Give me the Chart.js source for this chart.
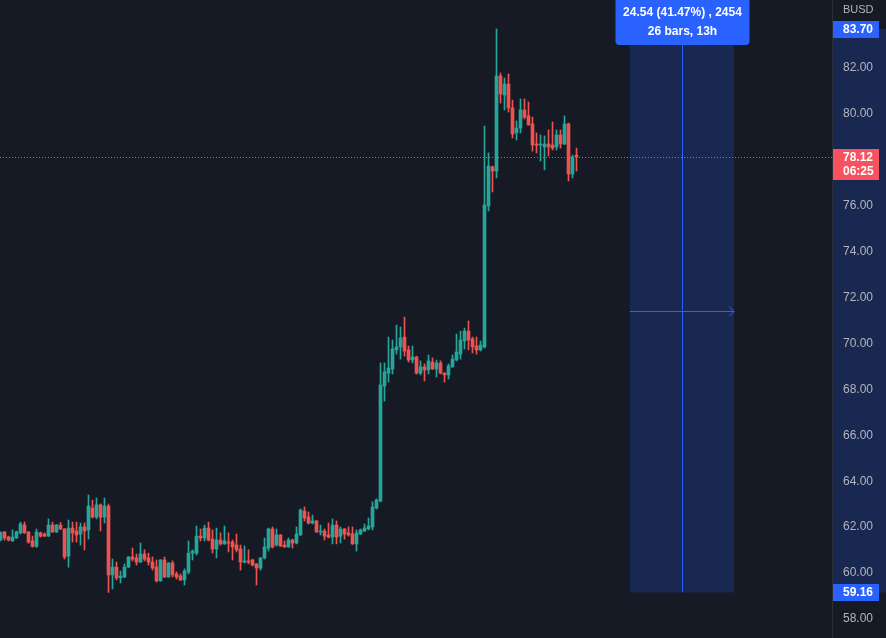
<!DOCTYPE html>
<html lang="en">
<head>
<meta charset="UTF-8">
<title>BUSD chart</title>
<style>
    html, body { margin: 0; padding: 0; background: #161a25; }
    canvas { display: block; }
</style>
</head>
<body>
<canvas id="chart" width="886" height="638"></canvas>
<script src="https://cdn.jsdelivr.net/npm/chart.js"></script>
<script>
// candle values (one entry per bar)
const opens = [
    61.44, 61.79, 61.57, 61.40, 61.53, 61.75, 62.09, 61.79, 61.40, 61.16,
    61.75, 61.70, 61.61, 62.09, 61.79, 62.09, 61.92, 60.74, 61.96, 61.83,
    61.70, 62.01, 61.88, 62.83, 62.44, 62.97, 62.44, 62.92, 59.92, 60.26,
    59.79, 59.83, 60.26, 60.70, 60.66, 60.48, 60.83, 60.66, 60.48, 60.26,
    59.66, 60.57, 59.83, 60.44, 59.96, 59.87, 59.70, 60.05, 60.87, 60.87,
    61.61, 61.53, 61.96, 61.48, 61.05, 61.44, 61.27, 61.35, 61.35, 61.22,
    61.05, 60.48, 60.53, 60.57, 60.40, 60.22, 60.66, 61.09, 61.92, 61.22,
    61.66, 61.22, 61.14, 61.44, 61.31, 61.66, 62.70, 62.44, 62.18, 62.27,
    61.79, 61.83, 61.66, 61.57, 62.09, 61.61, 61.92, 61.75, 61.70, 61.27,
    61.70, 61.83, 61.92, 62.01, 62.83, 63.14, 68.15, 68.71, 68.89, 69.72,
    69.85, 70.28, 69.72, 69.28, 69.41, 68.71, 68.98, 68.85, 69.19, 68.89,
    69.15, 68.71, 68.63, 68.98, 69.28, 69.54, 70.11, 70.54, 70.20, 69.89,
    69.72, 69.85, 75.99, 77.69, 77.51, 81.65, 80.82, 81.30, 80.26, 79.17,
    79.38, 80.17, 79.91, 79.56, 78.69, 78.64, 78.56, 78.69, 78.64, 78.56,
    79.08, 78.69, 79.56, 77.38, 78.20
];
const highs = [
    61.80, 61.81, 61.61, 61.88, 61.83, 62.22, 62.22, 61.81, 61.61, 61.92,
    61.79, 61.75, 62.36, 62.22, 62.12, 62.20, 61.94, 62.31, 62.22, 62.22,
    62.18, 62.18, 63.40, 63.18, 63.27, 63.01, 63.27, 63.01, 60.61, 60.48,
    60.09, 60.40, 60.72, 61.09, 60.83, 61.31, 61.01, 60.87, 60.70, 60.57,
    60.59, 60.70, 60.46, 60.53, 60.05, 59.96, 60.18, 61.40, 61.01, 62.05,
    61.92, 62.09, 62.22, 61.88, 61.96, 61.75, 62.05, 61.75, 61.44, 61.70,
    61.22, 61.18, 61.01, 60.61, 60.42, 60.68, 61.53, 61.96, 62.01, 61.92,
    61.68, 61.40, 61.53, 61.48, 62.01, 62.79, 62.88, 62.66, 62.53, 62.29,
    62.09, 61.92, 62.18, 62.36, 62.27, 62.01, 61.94, 62.01, 62.01, 61.88,
    61.92, 62.14, 62.40, 63.10, 63.23, 69.15, 69.15, 70.28, 70.15, 70.80,
    70.72, 71.15, 69.89, 69.89, 69.45, 69.24, 69.11, 69.50, 69.37, 69.28,
    69.24, 68.73, 69.11, 69.50, 70.41, 70.54, 70.67, 70.98, 70.28, 70.28,
    70.11, 79.47, 78.30, 77.73, 83.70, 81.78, 81.56, 81.74, 80.60, 79.69,
    80.65, 80.65, 80.52, 79.86, 79.17, 79.08, 79.04, 79.30, 79.65, 79.30,
    79.30, 79.91, 79.60, 78.21, 78.51
];
const lows = [
    61.40, 61.44, 61.40, 61.38, 61.51, 61.70, 61.73, 61.30, 61.13, 61.12,
    61.57, 61.59, 61.59, 61.77, 61.77, 61.90, 60.61, 60.26, 61.35, 61.35,
    61.22, 61.01, 61.48, 62.40, 62.36, 61.83, 62.18, 59.16, 59.31, 59.70,
    59.57, 59.80, 60.24, 60.53, 60.35, 60.46, 60.53, 60.35, 60.13, 59.61,
    59.64, 59.81, 59.81, 59.83, 59.74, 59.68, 59.48, 59.96, 60.57, 60.79,
    61.40, 61.40, 61.40, 60.87, 60.66, 61.22, 61.25, 60.92, 60.57, 60.92,
    60.13, 60.44, 60.40, 60.31, 59.48, 60.13, 60.61, 60.96, 61.09, 61.18,
    61.16, 61.12, 61.12, 61.09, 61.27, 61.64, 62.27, 62.14, 62.14, 61.77,
    61.66, 61.44, 61.53, 61.27, 61.27, 61.31, 61.48, 61.61, 61.25, 60.96,
    61.68, 61.81, 61.88, 61.88, 62.79, 63.10, 67.49, 68.32, 68.67, 69.54,
    69.32, 69.45, 69.19, 69.15, 68.67, 68.63, 68.37, 68.67, 68.87, 68.54,
    68.67, 68.32, 68.45, 68.96, 69.24, 69.32, 69.76, 69.72, 69.59, 69.54,
    69.67, 69.80, 75.77, 76.60, 77.21, 80.47, 80.17, 80.08, 78.95, 78.86,
    79.17, 79.78, 79.50, 78.38, 78.30, 77.95, 77.56, 78.17, 78.43, 78.43,
    78.51, 78.66, 77.08, 77.21, 77.51
];
const closes = [
    61.77, 61.53, 61.44, 61.57, 61.79, 62.14, 61.75, 61.35, 61.16, 61.79,
    61.61, 61.61, 62.09, 61.79, 62.09, 61.92, 60.70, 61.96, 61.75, 61.66,
    62.01, 61.83, 62.92, 62.44, 62.97, 62.44, 62.92, 59.92, 60.26, 59.79,
    59.87, 60.26, 60.70, 60.61, 60.48, 60.83, 60.61, 60.48, 60.22, 59.66,
    60.57, 59.83, 60.44, 59.92, 59.83, 59.70, 60.09, 60.87, 60.96, 61.61,
    61.53, 61.96, 61.44, 61.05, 61.44, 61.27, 61.40, 61.31, 61.14, 61.01,
    60.48, 60.53, 60.48, 60.35, 60.22, 60.66, 61.14, 61.92, 61.14, 61.66,
    61.18, 61.14, 61.44, 61.31, 61.70, 62.75, 62.40, 62.18, 62.27, 61.79,
    61.83, 61.61, 61.57, 62.09, 61.57, 61.92, 61.70, 61.66, 61.27, 61.75,
    61.88, 61.96, 62.05, 62.88, 63.18, 68.19, 68.76, 68.93, 69.76, 69.85,
    70.24, 69.67, 69.28, 69.41, 68.71, 68.98, 68.85, 69.24, 68.89, 69.15,
    68.71, 68.63, 69.02, 69.32, 69.63, 70.15, 70.54, 70.15, 69.85, 69.72,
    69.93, 76.03, 77.73, 77.51, 81.65, 80.87, 81.30, 80.26, 79.12, 79.38,
    80.17, 79.86, 79.52, 78.64, 78.64, 78.69, 78.69, 78.56, 78.51, 79.08,
    78.69, 79.56, 77.38, 78.12, 78.12
];

// 84.00 sits under the 83.70 tag, so it is not listed
const priceTicks = [58, 60, 62, 64, 66, 68, 70, 72, 74, 76, 78, 80, 82];
const quoteUnit = 'BUSD';
const lastPrice = 78.12;
const barCountdown = '06:25';
const measureLow = 59.16;
const measureHigh = 83.70;
const measureLines = ['24.54 (41.47%) , 2454', '26 bars, 13h'];

// view window, in bar units: 4px per bar over the 832px plot
const viewFrom = -0.125;
const viewTo = 207.875;
const measureFrom = 157.375;
const measureTo = 183.375;

const UP = '#26a69a';
const DOWN = '#ef5350';
const BLUE = '#2962ff';
const BG = '#161a25';
const FONT = '"Liberation Sans", Arial, sans-serif';

const candleColor = (ctx) => closes[ctx.dataIndex] >= opens[ctx.dataIndex] ? UP : DOWN;

const bodies = opens.map((o, i) => ({ x: i, y: [o, closes[i]] }));
const wicks = opens.map((o, i) => ({ x: i, y: [lows[i], highs[i]] }));

const overlay = {
    id: 'overlay',
    beforeDraw(chart) {
        const { ctx, width, height, chartArea: a, scales: { x, y } } = chart;
        ctx.save();
        ctx.fillStyle = BG;
        ctx.fillRect(0, 0, width, height);

        const yHi = y.getPixelForValue(measureHigh);
        const yLo = y.getPixelForValue(measureLow);
        const x0 = x.getPixelForValue(measureFrom);
        const x1 = x.getPixelForValue(measureTo);
        ctx.fillStyle = 'rgba(41, 98, 255, 0.2)';
        ctx.fillRect(a.right, yHi, width - a.right, yLo - yHi);
        ctx.fillRect(x0, yHi, x1 - x0, yLo - yHi);

        // last price line
        const yp = Math.round(y.getPixelForValue(lastPrice)) + 0.5;
        ctx.strokeStyle = DOWN;
        ctx.lineWidth = 1;
        ctx.setLineDash([1, 2]);
        ctx.beginPath();
        ctx.moveTo(a.left, yp);
        ctx.lineTo(a.right, yp);
        ctx.stroke();
        ctx.restore();
    },
    afterDraw(chart) {
        const { ctx, chartArea: a, scales: { x, y } } = chart;
        const yHi = y.getPixelForValue(measureHigh);
        const yLo = y.getPixelForValue(measureLow);
        const x0 = x.getPixelForValue(measureFrom);
        const x1 = x.getPixelForValue(measureTo);
        const xm = Math.round((x0 + x1) / 2) + 0.5;
        const ym = Math.round(y.getPixelForValue((measureHigh + measureLow) / 2)) + 0.5;

        ctx.save();
        ctx.strokeStyle = BLUE;
        ctx.lineWidth = 1;
        ctx.beginPath();
        ctx.moveTo(xm, yHi);
        ctx.lineTo(xm, yLo);
        ctx.moveTo(x0, ym);
        ctx.lineTo(x1, ym);
        ctx.moveTo(x1 - 5, ym - 5);
        ctx.lineTo(x1, ym);
        ctx.lineTo(x1 - 5, ym + 5);
        ctx.stroke();

        // info box above the range
        const bw = 134, bh = 45;
        ctx.fillStyle = BLUE;
        ctx.beginPath();
        ctx.roundRect(xm - bw / 2, -5, bw, bh + 5, 4);
        ctx.fill();
        ctx.fillStyle = '#ffffff';
        ctx.font = 'bold 12px ' + FONT;
        ctx.textAlign = 'center';
        ctx.textBaseline = 'middle';
        ctx.fillText(measureLines[0], xm, 13);
        ctx.fillText(measureLines[1], xm, 32);

        // price axis labels
        const tx = a.right + 11;
        ctx.textAlign = 'left';
        ctx.font = 'bold 12px ' + FONT;
        const tag = (value, color) => {
            const py = Math.round(y.getPixelForValue(value));
            ctx.fillStyle = color;
            ctx.fillRect(a.right + 1, py - 8, 46, 17);
            ctx.fillStyle = '#ffffff';
            ctx.fillText(value.toFixed(2), tx, py + 1);
        };
        tag(measureHigh, BLUE);
        tag(measureLow, BLUE);

        const pl = Math.round(y.getPixelForValue(lastPrice));
        ctx.fillStyle = '#f7525f';
        ctx.fillRect(a.right + 1, pl - 8, 46, 31);
        ctx.fillStyle = '#ffffff';
        ctx.fillText(lastPrice.toFixed(2), tx, pl + 1);
        ctx.fillText(barCountdown, tx, pl + 15);

        ctx.fillStyle = '#b2b5be';
        ctx.font = '11px ' + FONT;
        ctx.fillText(quoteUnit, tx, 10);
        ctx.restore();
    }
};

new Chart(document.getElementById('chart'), {
    type: 'bar',
    data: {
        datasets: [
            {
                data: bodies,
                grouped: false,
                barThickness: 3,
                minBarLength: 1,
                backgroundColor: candleColor,
                borderWidth: 0
            },
            {
                data: wicks,
                grouped: false,
                barThickness: 1,
                minBarLength: 1,
                backgroundColor: candleColor,
                borderWidth: 0
            }
        ]
    },
    options: {
        responsive: false,
        animation: false,
        layout: { padding: 0 },
        plugins: {
            legend: { display: false },
            tooltip: { enabled: false }
        },
        scales: {
            x: {
                type: 'linear',
                offset: false,
                min: viewFrom,
                max: viewTo,
                display: false
            },
            y: {
                position: 'right',
                min: 58 - 19 / 22.96,
                max: 58 + 619 / 22.96,
                grid: { display: false, drawTicks: false },
                border: { display: true, color: '#2a2e39' },
                afterBuildTicks: (s) => { s.ticks = priceTicks.map(v => ({ value: v })); },
                afterFit: (s) => { s.width = 54; s.paddingTop = 0; s.paddingBottom = 0; },
                ticks: {
                    padding: 11,
                    color: '#b2b5be',
                    font: { family: FONT, size: 12 },
                    callback: (v) => Number(v).toFixed(2)
                }
            }
        }
    },
    plugins: [overlay]
});
</script>
</body>
</html>
